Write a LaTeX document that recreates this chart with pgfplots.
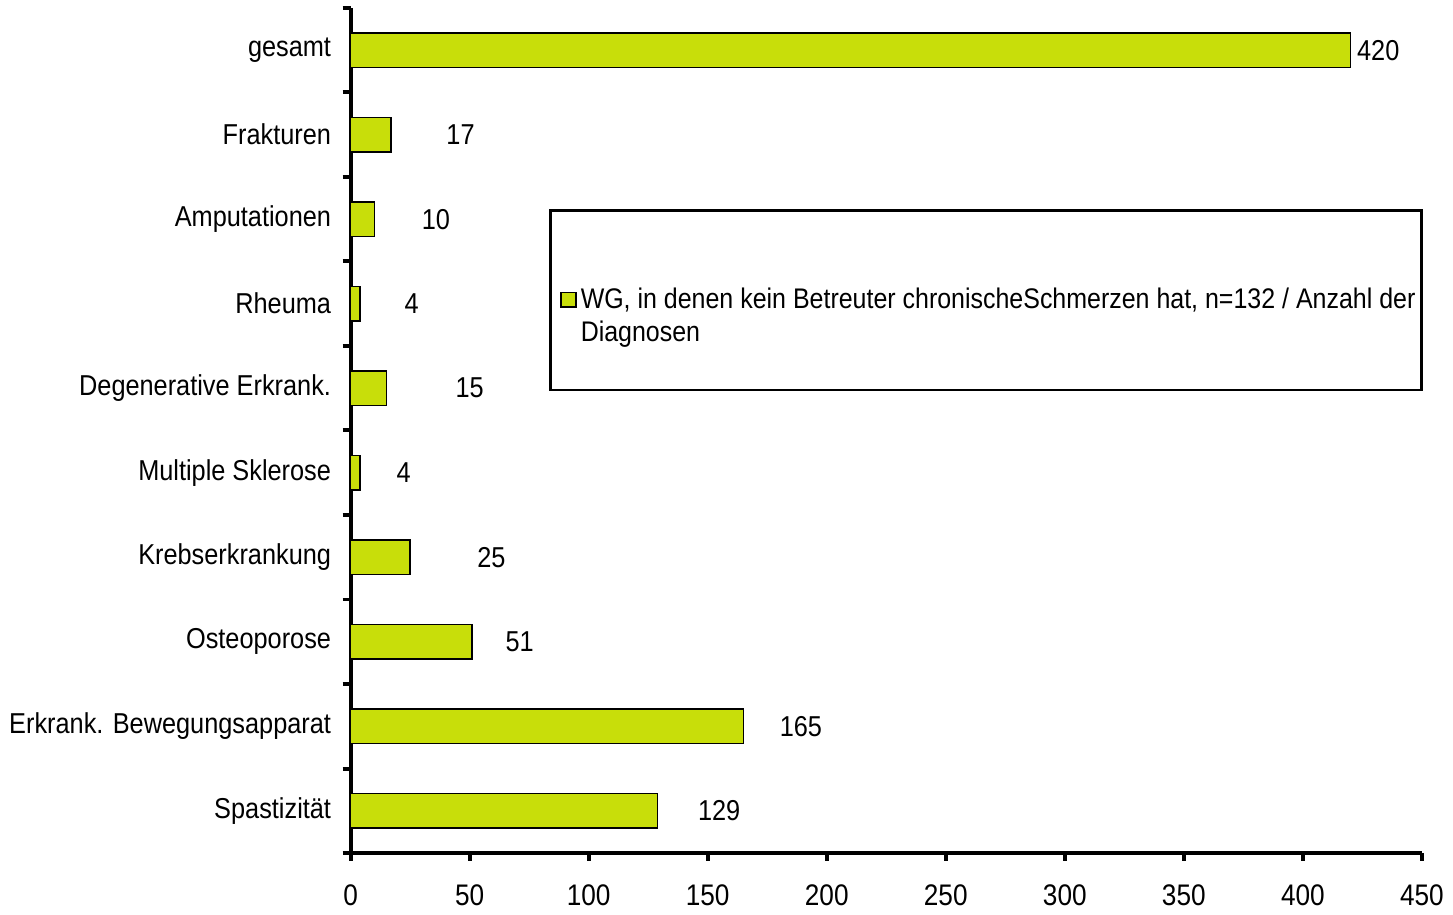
\documentclass[border=0pt]{standalone}
\usepackage{pgfplots}
\pgfplotsset{compat=1.18}
\usepackage{fontspec}
\setmainfont[FakeStretch=0.88]{Liberation Sans}
\definecolor{barg}{RGB}{200,222,10}

\begin{document}
\fontsize{14}{17}\selectfont
\begin{tikzpicture}
\begin{axis}[
    name=main,
    scale only axis,
    width=540pt, height=426pt,
    xbar, bar width=17.5pt,
    xmin=0, xmax=450,
    ymin=-0.5, ymax=9.5,
    axis x line*=bottom,
    axis y line*=left,
    axis line style={line width=2pt},
    xtick={0,50,...,450},
    ytick={0,...,9},
    yticklabels={Spastizität,Erkrank. Bewegungsapparat,Osteoporose,Krebserkrankung,Multiple Sklerose,Degenerative Erkrank.,Rheuma,Amputationen,Frakturen,gesamt},
    minor ytick={-0.5,0.5,...,9.5},
    major y tick style={draw=none},
    minor tick length=4pt,
    major tick length=4pt,
    tick align=outside,
    tick style={line width=2pt, black},
    yticklabel style={xshift=-1pt},
    xticklabel style={yshift=-7pt, font=\fontsize{15}{18}\selectfont},
    /pgf/number format/assume math mode=true,
    yticklabel style={font=\fontsize{14.5}{17}\selectfont},
    nodes near coords,
    visualization depends on=\thisrow{off}\as\off,
    every node near coord/.append style={anchor=center, xshift=\off pt, font=\fontsize{14.5}{17}\selectfont},
    legend style={at={(axis cs:83.3,7.12)}, anchor=north west, draw=black, line width=1.5pt,
        inner xsep=5pt, inner ysep=37pt, font=\fontsize{14.3}{16.5}\selectfont},
    legend cell align=left,
    legend image code/.code={\draw[fill=barg, line width=0.8pt] (0pt,-3.5pt) rectangle (7.5pt,4pt);},
    clip=false,
]
\addplot[fill=barg, draw=black, line width=0.75pt] table {
x y off
129 0 31
165 1 29
51 2 24
25 3 41
4 4 22
15 5 42
4 6 26
10 7 31
17 8 35
420 9 14
};
\addlegendentry{\parbox[t]{417pt}{\mbox{WG, in denen kein Betreuter chronischeSchmerzen hat, n=132 / Anzahl der}\\Diagnosen}}
\end{axis}
\path ([yshift=4pt]main.north);
\end{tikzpicture}
\end{document}
